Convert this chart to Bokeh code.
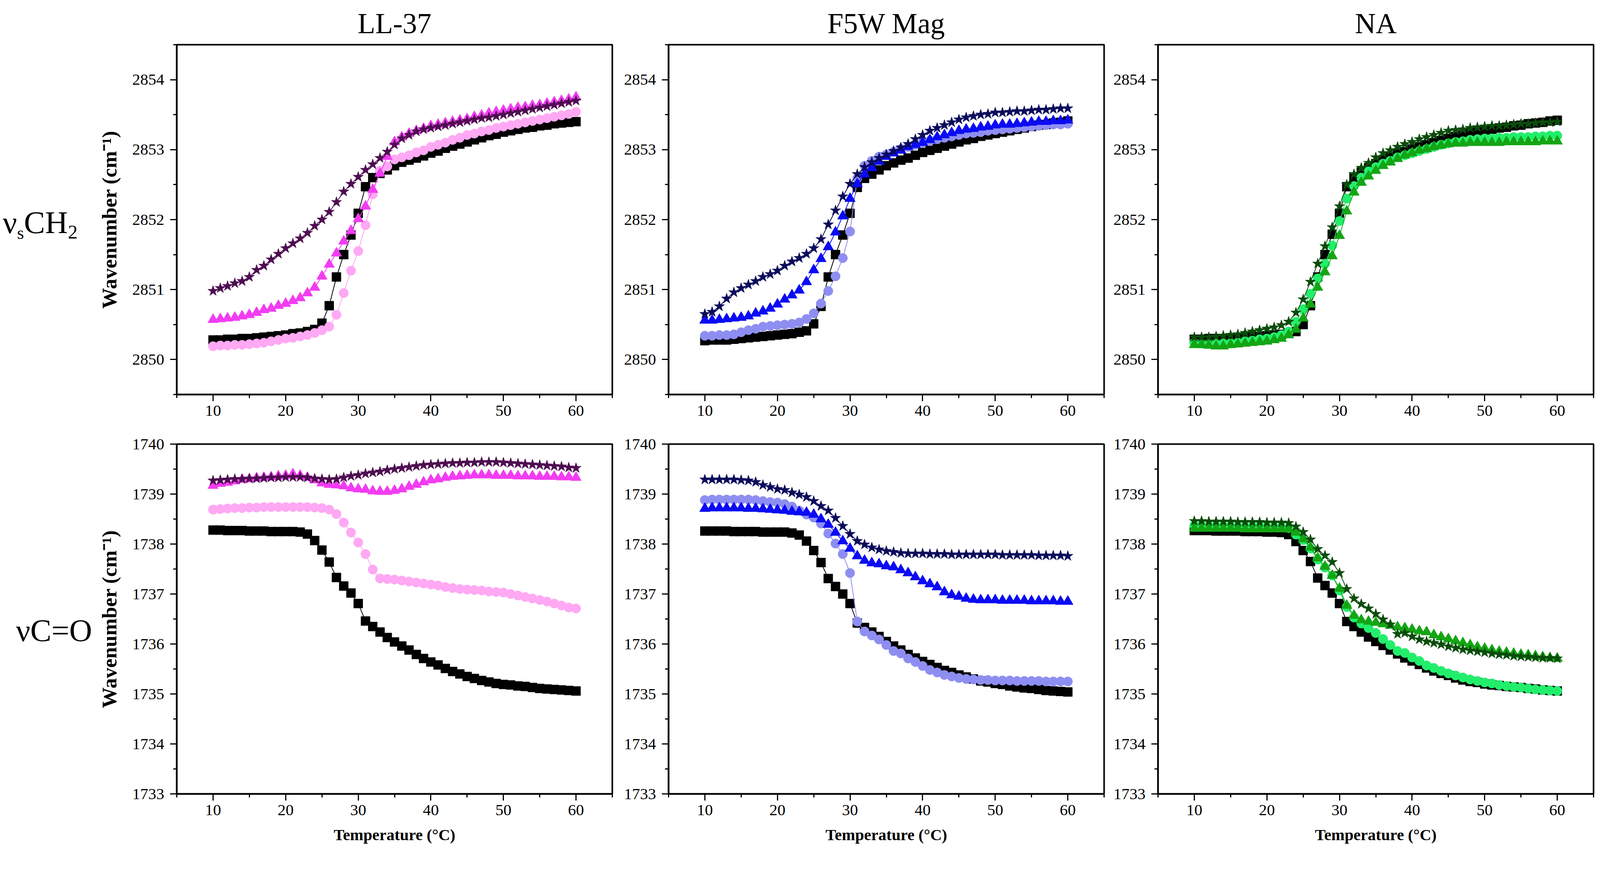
import numpy as np

# Bokeh libraries
from bokeh.plotting import figure
from bokeh.models import Range1d, SingleIntervalTicker, Div
from bokeh.layouts import row, column
from bokeh.embed import file_html
from bokeh.resources import INLINE

temps = list(range(10, 61))

col_titles = ["LL-37", "F5W Mag", "NA"]

# ---- vsCH2 (top row) ----
ll37_ch2_lipid = [2850.28, 2850.28, 2850.29, 2850.29, 2850.30, 2850.30, 2850.31, 2850.32, 2850.33, 2850.34,
                  2850.35, 2850.37, 2850.38, 2850.40, 2850.43, 2850.52, 2850.77, 2851.18, 2851.50, 2851.78,
                  2852.09, 2852.47, 2852.60, 2852.66, 2852.71, 2852.77, 2852.82, 2852.85, 2852.88, 2852.91,
                  2852.95, 2852.98, 2853.02, 2853.05, 2853.08, 2853.11, 2853.14, 2853.17, 2853.20, 2853.22,
                  2853.25, 2853.27, 2853.29, 2853.31, 2853.32, 2853.34, 2853.35, 2853.37, 2853.38, 2853.39,
                  2853.40]
ll37_ch2_c1 = [2850.19, 2850.20, 2850.20, 2850.21, 2850.21, 2850.22, 2850.23, 2850.24, 2850.26, 2850.28,
               2850.30, 2850.31, 2850.33, 2850.35, 2850.38, 2850.42, 2850.47, 2850.64, 2850.95, 2851.27,
               2851.55, 2851.92, 2852.36, 2852.70, 2852.76, 2852.86, 2852.89, 2852.92, 2852.96, 2852.99,
               2853.04, 2853.07, 2853.10, 2853.14, 2853.17, 2853.21, 2853.23, 2853.26, 2853.28, 2853.31,
               2853.33, 2853.35, 2853.37, 2853.39, 2853.41, 2853.43, 2853.45, 2853.47, 2853.49, 2853.51,
               2853.54]
ll37_ch2_c2 = [2850.57, 2850.58, 2850.59, 2850.60, 2850.62, 2850.64, 2850.67, 2850.71, 2850.73, 2850.77,
               2850.80, 2850.84, 2850.88, 2850.95, 2851.03, 2851.19, 2851.36, 2851.52, 2851.69, 2851.84,
               2852.01, 2852.19, 2852.43, 2852.66, 2852.90, 2853.11, 2853.18, 2853.23, 2853.27, 2853.30,
               2853.34, 2853.36, 2853.38, 2853.40, 2853.42, 2853.44, 2853.47, 2853.49, 2853.52, 2853.54,
               2853.56, 2853.58, 2853.60, 2853.61, 2853.63, 2853.64, 2853.66, 2853.68, 2853.70, 2853.72,
               2853.75]
ll37_ch2_c3 = [2850.98, 2851.02, 2851.05, 2851.09, 2851.12, 2851.18, 2851.28, 2851.34, 2851.43, 2851.51,
               2851.59, 2851.66, 2851.73, 2851.81, 2851.91, 2852.00, 2852.11, 2852.25, 2852.40, 2852.51,
               2852.61, 2852.71, 2852.79, 2852.88, 2852.97, 2853.07, 2853.16, 2853.21, 2853.26, 2853.29,
               2853.31, 2853.33, 2853.35, 2853.37, 2853.39, 2853.41, 2853.43, 2853.45, 2853.46, 2853.48,
               2853.50, 2853.52, 2853.54, 2853.56, 2853.58, 2853.60, 2853.62, 2853.64, 2853.66, 2853.68,
               2853.70]

f5w_ch2_lipid = [2850.27, 2850.28, 2850.28, 2850.28, 2850.29, 2850.30, 2850.31, 2850.32, 2850.33, 2850.34,
                 2850.35, 2850.36, 2850.37, 2850.39, 2850.41, 2850.51, 2850.76, 2851.18, 2851.50, 2851.78,
                 2852.09, 2852.46, 2852.59, 2852.65, 2852.71, 2852.77, 2852.81, 2852.85, 2852.88, 2852.92,
                 2852.96, 2852.99, 2853.02, 2853.05, 2853.08, 2853.11, 2853.14, 2853.16, 2853.19, 2853.21,
                 2853.23, 2853.25, 2853.27, 2853.29, 2853.31, 2853.33, 2853.35, 2853.36, 2853.38, 2853.39,
                 2853.41]
f5w_ch2_c1 = [2850.34, 2850.34, 2850.35, 2850.35, 2850.36, 2850.39, 2850.42, 2850.44, 2850.47, 2850.48,
              2850.49, 2850.50, 2850.51, 2850.53, 2850.58, 2850.66, 2850.80, 2850.98, 2851.19, 2851.45,
              2851.83, 2852.59, 2852.77, 2852.84, 2852.90, 2852.93, 2852.97, 2853.01, 2853.04, 2853.07,
              2853.10, 2853.13, 2853.15, 2853.17, 2853.19, 2853.21, 2853.23, 2853.24, 2853.25, 2853.27,
              2853.28, 2853.29, 2853.30, 2853.31, 2853.32, 2853.33, 2853.34, 2853.35, 2853.36, 2853.36,
              2853.37]
f5w_ch2_c2 = [2850.56, 2850.56, 2850.57, 2850.58, 2850.59, 2850.60, 2850.62, 2850.66, 2850.69, 2850.73,
              2850.79, 2850.86, 2850.92, 2850.99, 2851.11, 2851.28, 2851.44, 2851.61, 2851.82, 2852.05,
              2852.30, 2852.51, 2852.65, 2852.74, 2852.83, 2852.90, 2852.95, 2852.99, 2853.04, 2853.07,
              2853.10, 2853.14, 2853.18, 2853.21, 2853.24, 2853.27, 2853.29, 2853.30, 2853.32, 2853.33,
              2853.35, 2853.36, 2853.36, 2853.37, 2853.38, 2853.39, 2853.40, 2853.40, 2853.41, 2853.41,
              2853.42]
f5w_ch2_c3 = [2850.65, 2850.68, 2850.76, 2850.87, 2850.96, 2851.02, 2851.07, 2851.12, 2851.18, 2851.22,
              2851.27, 2851.34, 2851.40, 2851.45, 2851.51, 2851.59, 2851.72, 2851.93, 2852.13, 2852.33,
              2852.51, 2852.65, 2852.75, 2852.82, 2852.88, 2852.93, 2852.98, 2853.03, 2853.08, 2853.15,
              2853.21, 2853.27, 2853.31, 2853.35, 2853.39, 2853.43, 2853.46, 2853.48, 2853.50, 2853.51,
              2853.53, 2853.53, 2853.54, 2853.55, 2853.55, 2853.56, 2853.57, 2853.57, 2853.58, 2853.59,
              2853.59]

na_ch2_lipid = [2850.29, 2850.29, 2850.30, 2850.30, 2850.30, 2850.31, 2850.31, 2850.32, 2850.33, 2850.33,
                2850.34, 2850.35, 2850.36, 2850.38, 2850.40, 2850.50, 2850.77, 2851.18, 2851.50, 2851.79,
                2852.09, 2852.47, 2852.60, 2852.68, 2852.74, 2852.80, 2852.85, 2852.90, 2852.94, 2852.97,
                2853.01, 2853.04, 2853.07, 2853.10, 2853.13, 2853.16, 2853.19, 2853.21, 2853.24, 2853.26,
                2853.28, 2853.29, 2853.31, 2853.32, 2853.34, 2853.35, 2853.37, 2853.38, 2853.39, 2853.41,
                2853.42]
na_ch2_c1 = [2850.24, 2850.23, 2850.23, 2850.23, 2850.23, 2850.23, 2850.24, 2850.26, 2850.27, 2850.29,
             2850.30, 2850.32, 2850.35, 2850.40, 2850.54, 2850.72, 2850.94, 2851.16, 2851.37, 2851.63,
             2851.98, 2852.30, 2852.48, 2852.60, 2852.69, 2852.75, 2852.80, 2852.84, 2852.89, 2852.92,
             2852.95, 2852.98, 2853.01, 2853.04, 2853.07, 2853.09, 2853.11, 2853.12, 2853.14, 2853.15,
             2853.16, 2853.16, 2853.17, 2853.17, 2853.18, 2853.18, 2853.18, 2853.19, 2853.19, 2853.20,
             2853.20]
na_ch2_c2 = [2850.21, 2850.21, 2850.20, 2850.19, 2850.19, 2850.21, 2850.22, 2850.23, 2850.24, 2850.25,
             2850.26, 2850.28, 2850.30, 2850.35, 2850.43, 2850.59, 2850.79, 2851.03, 2851.25, 2851.48,
             2851.77, 2852.12, 2852.39, 2852.53, 2852.62, 2852.70, 2852.77, 2852.82, 2852.87, 2852.92,
             2852.95, 2852.99, 2853.01, 2853.04, 2853.06, 2853.08, 2853.09, 2853.09, 2853.10, 2853.10,
             2853.10, 2853.10, 2853.10, 2853.11, 2853.11, 2853.11, 2853.11, 2853.11, 2853.12, 2853.12,
             2853.12]
na_ch2_c3 = [2850.32, 2850.32, 2850.32, 2850.33, 2850.34, 2850.35, 2850.36, 2850.38, 2850.40, 2850.42,
             2850.44, 2850.46, 2850.49, 2850.54, 2850.67, 2850.86, 2851.11, 2851.37, 2851.62, 2851.89,
             2852.19, 2852.50, 2852.65, 2852.74, 2852.81, 2852.89, 2852.95, 2852.99, 2853.04, 2853.08,
             2853.11, 2853.15, 2853.18, 2853.21, 2853.24, 2853.27, 2853.28, 2853.29, 2853.31, 2853.32,
             2853.33, 2853.34, 2853.34, 2853.35, 2853.36, 2853.37, 2853.37, 2853.38, 2853.39, 2853.39,
             2853.40]

# ---- vC=O (bottom row) ----
ll37_co_lipid = [1738.28, 1738.28, 1738.27, 1738.27, 1738.27, 1738.26, 1738.26, 1738.26, 1738.25, 1738.25,
                 1738.25, 1738.25, 1738.24, 1738.20, 1738.07, 1737.88, 1737.64, 1737.33, 1737.16, 1737.02,
                 1736.81, 1736.46, 1736.35, 1736.24, 1736.13, 1736.04, 1735.96, 1735.88, 1735.79, 1735.71,
                 1735.64, 1735.58, 1735.51, 1735.45, 1735.40, 1735.35, 1735.31, 1735.27, 1735.24, 1735.21,
                 1735.19, 1735.18, 1735.16, 1735.15, 1735.13, 1735.11, 1735.10, 1735.09, 1735.08, 1735.07,
                 1735.06]
ll37_co_c1 = [1738.69, 1738.70, 1738.71, 1738.72, 1738.72, 1738.73, 1738.73, 1738.74, 1738.74, 1738.74,
              1738.74, 1738.74, 1738.74, 1738.74, 1738.73, 1738.72, 1738.69, 1738.60, 1738.43, 1738.23,
              1738.03, 1737.80, 1737.49, 1737.31, 1737.30, 1737.29, 1737.27, 1737.25, 1737.23, 1737.21,
              1737.19, 1737.17, 1737.14, 1737.12, 1737.10, 1737.09, 1737.08, 1737.07, 1737.05, 1737.04,
              1737.03, 1737.00, 1736.97, 1736.94, 1736.91, 1736.88, 1736.85, 1736.81, 1736.77, 1736.73,
              1736.71]
ll37_co_c2 = [1739.17, 1739.21, 1739.23, 1739.26, 1739.29, 1739.30, 1739.32, 1739.33, 1739.34, 1739.36,
              1739.37, 1739.40, 1739.37, 1739.33, 1739.28, 1739.22, 1739.19, 1739.18, 1739.16, 1739.12,
              1739.10, 1739.09, 1739.06, 1739.05, 1739.05, 1739.07, 1739.10, 1739.15, 1739.19, 1739.24,
              1739.28, 1739.30, 1739.33, 1739.35, 1739.36, 1739.37, 1739.38, 1739.38, 1739.38, 1739.37,
              1739.37, 1739.37, 1739.36, 1739.36, 1739.36, 1739.35, 1739.35, 1739.35, 1739.34, 1739.34,
              1739.33]
ll37_co_c3 = [1739.27, 1739.28, 1739.29, 1739.30, 1739.30, 1739.31, 1739.31, 1739.32, 1739.33, 1739.33,
              1739.34, 1739.34, 1739.34, 1739.33, 1739.31, 1739.30, 1739.29, 1739.30, 1739.33, 1739.36,
              1739.38, 1739.41, 1739.43, 1739.45, 1739.48, 1739.50, 1739.52, 1739.54, 1739.56, 1739.58,
              1739.59, 1739.60, 1739.61, 1739.62, 1739.62, 1739.63, 1739.63, 1739.64, 1739.64, 1739.64,
              1739.63, 1739.62, 1739.61, 1739.60, 1739.59, 1739.58, 1739.57, 1739.56, 1739.55, 1739.53,
              1739.52]

f5w_co_lipid = [1738.26, 1738.26, 1738.26, 1738.26, 1738.25, 1738.25, 1738.25, 1738.25, 1738.24, 1738.24,
                1738.24, 1738.24, 1738.22, 1738.18, 1738.06, 1737.87, 1737.63, 1737.31, 1737.15, 1737.00,
                1736.81, 1736.42, 1736.33, 1736.24, 1736.15, 1736.05, 1735.96, 1735.88, 1735.79, 1735.72,
                1735.65, 1735.59, 1735.53, 1735.47, 1735.43, 1735.38, 1735.34, 1735.30, 1735.26, 1735.24,
                1735.21, 1735.19, 1735.16, 1735.14, 1735.12, 1735.11, 1735.09, 1735.07, 1735.06, 1735.05,
                1735.04]
f5w_co_c1 = [1738.88, 1738.89, 1738.89, 1738.89, 1738.89, 1738.89, 1738.89, 1738.88, 1738.86, 1738.84,
             1738.83, 1738.80, 1738.75, 1738.67, 1738.59, 1738.53, 1738.41, 1738.21, 1738.01, 1737.80,
             1737.42, 1736.45, 1736.25, 1736.17, 1736.09, 1735.98, 1735.86, 1735.81, 1735.71, 1735.64,
             1735.56, 1735.48, 1735.43, 1735.38, 1735.35, 1735.32, 1735.30, 1735.29, 1735.28, 1735.28,
             1735.27, 1735.27, 1735.27, 1735.26, 1735.26, 1735.26, 1735.26, 1735.25, 1735.25, 1735.25,
             1735.25]
f5w_co_c2 = [1738.71, 1738.72, 1738.72, 1738.72, 1738.72, 1738.72, 1738.71, 1738.71, 1738.70, 1738.69,
             1738.68, 1738.67, 1738.65, 1738.64, 1738.63, 1738.59, 1738.50, 1738.39, 1738.23, 1738.06,
             1737.91, 1737.76, 1737.67, 1737.62, 1737.60, 1737.56, 1737.54, 1737.48, 1737.42, 1737.34,
             1737.26, 1737.20, 1737.14, 1737.04, 1736.98, 1736.95, 1736.91, 1736.89, 1736.88, 1736.88,
             1736.88, 1736.87, 1736.87, 1736.87, 1736.87, 1736.86, 1736.86, 1736.86, 1736.86, 1736.85,
             1736.85]
f5w_co_c3 = [1739.29, 1739.29, 1739.29, 1739.29, 1739.29, 1739.28, 1739.27, 1739.24, 1739.18, 1739.14,
             1739.10, 1739.08, 1739.03, 1738.99, 1738.94, 1738.86, 1738.76, 1738.67, 1738.52, 1738.36,
             1738.20, 1738.06, 1737.99, 1737.93, 1737.89, 1737.86, 1737.84, 1737.82, 1737.81, 1737.81,
             1737.81, 1737.80, 1737.80, 1737.80, 1737.79, 1737.79, 1737.79, 1737.79, 1737.79, 1737.79,
             1737.79, 1737.78, 1737.78, 1737.78, 1737.78, 1737.78, 1737.77, 1737.77, 1737.77, 1737.77,
             1737.76]

na_co_lipid = [1738.27, 1738.27, 1738.27, 1738.26, 1738.26, 1738.26, 1738.26, 1738.25, 1738.25, 1738.25,
               1738.24, 1738.24, 1738.23, 1738.19, 1738.05, 1737.87, 1737.65, 1737.32, 1737.17, 1737.02,
               1736.81, 1736.45, 1736.35, 1736.24, 1736.14, 1736.05, 1735.97, 1735.88, 1735.80, 1735.72,
               1735.66, 1735.59, 1735.52, 1735.46, 1735.41, 1735.37, 1735.32, 1735.28, 1735.25, 1735.23,
               1735.20, 1735.18, 1735.17, 1735.15, 1735.14, 1735.13, 1735.11, 1735.10, 1735.08, 1735.07,
               1735.06]
na_co_c1 = [1738.37, 1738.37, 1738.36, 1738.36, 1738.36, 1738.36, 1738.35, 1738.35, 1738.35, 1738.35,
            1738.34, 1738.34, 1738.34, 1738.32, 1738.19, 1738.08, 1737.91, 1737.69, 1737.53, 1737.37,
            1737.07, 1736.74, 1736.53, 1736.41, 1736.32, 1736.22, 1736.10, 1735.98, 1735.86, 1735.82,
            1735.73, 1735.66, 1735.57, 1735.52, 1735.46, 1735.41, 1735.37, 1735.33, 1735.29, 1735.26,
            1735.23, 1735.21, 1735.18, 1735.16, 1735.14, 1735.13, 1735.11, 1735.09, 1735.08, 1735.07,
            1735.06]
na_co_c2 = [1738.31, 1738.31, 1738.31, 1738.31, 1738.31, 1738.31, 1738.31, 1738.30, 1738.30, 1738.30,
            1738.30, 1738.30, 1738.30, 1738.30, 1738.23, 1738.10, 1737.93, 1737.72, 1737.55, 1737.37,
            1737.11, 1736.77, 1736.57, 1736.48, 1736.45, 1736.43, 1736.40, 1736.37, 1736.34, 1736.32,
            1736.29, 1736.26, 1736.24, 1736.18, 1736.14, 1736.10, 1736.06, 1736.02, 1735.98, 1735.94,
            1735.91, 1735.88, 1735.85, 1735.83, 1735.81, 1735.79, 1735.78, 1735.76, 1735.74, 1735.72,
            1735.71]
na_co_c3 = [1738.46, 1738.46, 1738.45, 1738.45, 1738.45, 1738.45, 1738.44, 1738.44, 1738.44, 1738.44,
            1738.43, 1738.43, 1738.43, 1738.42, 1738.35, 1738.24, 1738.09, 1737.90, 1737.77, 1737.64,
            1737.42, 1737.10, 1736.91, 1736.80, 1736.71, 1736.60, 1736.49, 1736.39, 1736.20, 1736.22,
            1736.15, 1736.09, 1736.05, 1736.02, 1735.99, 1735.95, 1735.92, 1735.89, 1735.87, 1735.85,
            1735.83, 1735.81, 1735.79, 1735.78, 1735.76, 1735.75, 1735.74, 1735.73, 1735.72, 1735.72,
            1735.71]

# colours per column: lipid, circles, triangles, stars
palettes = [
    ["#000000", "#FFA8F4", "#F23CF2", "#4E0D50"],
    ["#000000", "#8E8EF2", "#0A0AF5", "#0B0B5C"],
    ["#000000", "#22EE6C", "#14A514", "#0A4C0A"],
]
markers = ["square", "circle", "triangle", "star"]
sizes = [23, 24, 27, 28]

top_data = [
    [ll37_ch2_lipid, ll37_ch2_c1, ll37_ch2_c2, ll37_ch2_c3],
    [f5w_ch2_lipid, f5w_ch2_c1, f5w_ch2_c2, f5w_ch2_c3],
    [na_ch2_lipid, na_ch2_c1, na_ch2_c2, na_ch2_c3],
]
bottom_data = [
    [ll37_co_lipid, ll37_co_c1, ll37_co_c2, ll37_co_c3],
    [f5w_co_lipid, f5w_co_c1, f5w_co_c2, f5w_co_c3],
    [na_co_lipid, na_co_c1, na_co_c2, na_co_c3],
]

# the page is laid out in css px (~4096 wide viewport)
FONT = "Liberation Serif"
left_borders = [206, 134, 128]
right_borders = [10, 10, 5]
FW, FH = 1115, 896


def make_panel(col, series, y0, y1, top):
    p = figure(frame_width=FW, frame_height=FH,
               x_range=Range1d(5, 65), y_range=Range1d(y0, y1),
               output_backend="svg", toolbar_location=None,
               min_border_left=left_borders[col], min_border_right=right_borders[col],
               min_border_top=114 if top else 37,
               min_border_bottom=80 if top else 148,
               background_fill_color="white", border_fill_color="white")
    if top:
        p.title.text = col_titles[col]
        p.title.align = "center"
        p.title.text_font = FONT
        p.title.text_font_size = "74px"
        p.title.text_font_style = "normal"
        p.title.text_color = "black"
        p.title.standoff = 28
    p.grid.visible = False
    p.outline_line_color = "black"
    p.outline_line_width = 4
    p.outline_line_alpha = 1

    p.xaxis.ticker = SingleIntervalTicker(interval=10, num_minor_ticks=2)
    p.yaxis.ticker = SingleIntervalTicker(interval=1, num_minor_ticks=2)
    p.yaxis.formatter.use_scientific = False
    for ax in [p.xaxis[0], p.yaxis[0]]:
        ax.axis_line_width = 4
        ax.major_tick_line_width = 3
        ax.minor_tick_line_width = 3
        ax.major_tick_in = 0
        ax.major_tick_out = 17
        ax.minor_tick_in = 0
        ax.minor_tick_out = 9
        ax.major_label_text_font = FONT
        ax.major_label_text_font_size = "41px"
        ax.major_label_text_color = "black"
        ax.axis_label_text_font = FONT
        ax.axis_label_text_font_style = "bold"
        ax.axis_label_text_color = "black"
    p.yaxis.major_label_standoff = 15
    p.xaxis.major_label_standoff = 11
    if col == 0:
        p.yaxis.axis_label = "Wavenumber (cm\u207b\u00b9)"
        p.yaxis.axis_label_text_font_size = "53px"
        p.yaxis.axis_label_standoff = 27
    if not top:
        p.xaxis.axis_label = "Temperature (\u00b0C)"
        p.xaxis.axis_label_text_font_size = "41px"
        p.xaxis.axis_label_standoff = 24

    for vals, c, m, s in zip(series, palettes[col], markers, sizes):
        p.line(temps, vals, line_color=c, line_width=2)
        p.scatter(temps, vals, marker=m, size=s, fill_color=c, line_color=c)
    return p


top_row = [make_panel(i, top_data[i], 2849.5, 2854.5, True) for i in range(3)]
bottom_row = [make_panel(i, bottom_data[i], 1733, 1740, False) for i in range(3)]

label_css = "font-family:'Liberation Serif';font-size:81px;line-height:81px;white-space:nowrap;color:black;"
lab1 = Div(width=236, height=1090,
           text='<div style="padding-top:525px;padding-left:2px;' + label_css + '">'
                '\u03bd<span style="font-size:56%;vertical-align:-0.34em">s</span>'
                'CH<span style="font-size:62%;vertical-align:-0.27em">2</span></div>')
lab2 = Div(width=236, height=1081,
           text='<div style="padding-top:470px;padding-left:36px;' + label_css + '">\u03bdC=O</div>')

page = column(row(lab1, *top_row), row(lab2, *bottom_row))

open("out.html", "w").write(file_html(page, INLINE))
